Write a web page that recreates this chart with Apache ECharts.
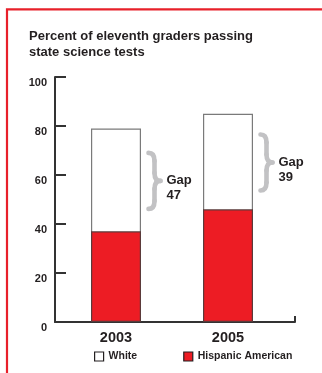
<!DOCTYPE html>
<html>
<head>
<meta charset="utf-8">
<script src="https://cdn.jsdelivr.net/npm/echarts@6/dist/echarts.min.js"></script>
<style>
  html, body { margin: 0; padding: 0; background: #fff; }
  #chart { width: 322px; height: 373px; }
</style>
</head>
<body>
<div id="chart"></div>
<script>
// Passing rates (percent) by year and group
const years = ['2003', '2005'];
const whiteRates = [79, 85];
const hispanicRates = [37, 46];
const gapLabels = ['Gap\n47', 'Gap\n39'];
const yTickValues = [0, 20, 40, 60, 80, 100];

const INK = '#231f20';
const RED = '#ed1c24';
const FONT = '"Liberation Sans", Arial, sans-serif';

const chart = echarts.init(document.getElementById('chart'), null, { renderer: 'canvas' });

const baseOption = {
  animation: false,
  backgroundColor: '#fff',
  title: {
    text: 'Percent of eleventh graders passing\nstate science tests',
    left: 29,
    top: 28,
    padding: 0,
    textStyle: { fontFamily: FONT, fontSize: 13, fontWeight: 'bold', color: INK, lineHeight: 16.6 }
  },
  legend: {
    left: 94,
    top: 351,
    padding: 0,
    icon: 'rect',
    itemWidth: 9,
    itemHeight: 9,
    itemGap: 46,
    selectedMode: false,
    textStyle: { fontFamily: FONT, fontSize: 10.5, fontWeight: 'bold', color: INK },
    data: [
      { name: 'White', itemStyle: { color: '#fff', borderColor: INK, borderWidth: 1.2 } },
      { name: 'Hispanic American', itemStyle: { color: RED, borderColor: INK, borderWidth: 1.2 } }
    ]
  },
  grid: [
    { left: 60, width: 224, top: 77, height: 245 },
    { left: 55, width: 240, top: 77, height: 245 }
  ],
  xAxis: [
    {
      type: 'category',
      gridIndex: 0,
      data: years,
      axisLine: { show: false },
      axisTick: { show: false },
      axisLabel: { margin: 8, fontFamily: FONT, fontSize: 14.5, fontWeight: 'bold', color: INK }
    },
    {
      // baseline running the full plot width, with an end tick
      type: 'value',
      gridIndex: 1,
      min: 0,
      max: 1,
      interval: 1,
      axisLine: { show: true, lineStyle: { color: '#333', width: 2 } },
      axisTick: { show: true, inside: true, length: 6, lineStyle: { color: '#333', width: 2 } },
      axisLabel: { show: false },
      splitLine: { show: false }
    }
  ],
  yAxis: [
    {
      type: 'value',
      gridIndex: 0,
      min: 0,
      max: 100,
      interval: 20,
      offset: 5,
      axisLine: { show: true, lineStyle: { color: '#333', width: 2 } },
      axisTick: { show: true, inside: true, length: 11, lineStyle: { color: '#333', width: 2 } },
      splitLine: { show: false },
      axisLabel: {
        margin: 8,
        verticalAlign: 'top',
        lineHeight: 11,
        fontFamily: FONT, fontSize: 11, fontWeight: 'bold', color: INK,
        formatter: v => (yTickValues.indexOf(v) >= 0 ? String(v) : '')
      }
    },
    { type: 'value', gridIndex: 1, min: 0, max: 100, show: false }
  ],
  series: [
    {
      name: 'White',
      type: 'bar',
      xAxisIndex: 0,
      yAxisIndex: 0,
      barWidth: 50,
      z: 2,
      itemStyle: { color: '#fff', borderColor: '#7a7a7a', borderWidth: 1.2 },
      data: whiteRates
    },
    {
      name: 'Hispanic American',
      type: 'bar',
      xAxisIndex: 0,
      yAxisIndex: 0,
      barWidth: 50,
      barGap: '-100%',
      z: 3,
      itemStyle: { color: RED, borderColor: '#5b3a3a', borderWidth: 1.2 },
      data: hispanicRates
    }
  ]
};

chart.setOption(baseOption);

const BRACE_STYLE = { stroke: '#c2c2c4', lineWidth: 4.6, fill: null, lineCap: 'round', lineJoin: 'round' };

// Curly brace for a vertical span, pointing right, built from curves and lines
function braceGroup(x, cy, w, h) {
  const top = cy - h / 2, bot = cy + h / 2, mx = x + w / 2, r = 8;
  const curve = (x1, y1, cx, cyy, x2, y2) => ({
    type: 'bezierCurve', silent: true, style: BRACE_STYLE,
    shape: { x1, y1, cpx1: cx, cpy1: cyy, x2, y2 }
  });
  const line = (x1, y1, x2, y2) => ({
    type: 'line', silent: true, style: BRACE_STYLE,
    shape: { x1, y1, x2, y2 }
  });
  return {
    type: 'group',
    silent: true,
    children: [
      curve(x, top, mx, top, mx, top + r),
      line(mx, top + r, mx, cy - r),
      curve(mx, cy - r, mx, cy, x + w, cy),
      curve(x + w, cy, mx, cy, mx, cy + r),
      line(mx, cy + r, mx, bot - r),
      curve(mx, bot - r, mx, bot, x, bot)
    ]
  };
}

function buildAnnotations() {
  const elements = [
    {
      // red frame along the top and left
      type: 'polyline',
      shape: { points: [[7, 373], [7, 9.3], [322, 9.3]] },
      style: { stroke: '#e8202a', lineWidth: 2.2, fill: null },
      silent: true
    }
  ];
  years.forEach((yr, i) => {
    const mid = (whiteRates[i] + hispanicRates[i]) / 2;
    const p = chart.convertToPixel({ xAxisIndex: 0, yAxisIndex: 0 }, [yr, mid]);
    const braceX = p[0] + 25 + 7.5;
    elements.push(braceGroup(braceX, p[1] + 1, 12, 56));
    elements.push({
      type: 'text',
      x: braceX + 18,
      y: p[1] - 7,
      style: {
        text: gapLabels[i],
        fontFamily: FONT, fontSize: 13, fontWeight: 'bold', fill: INK,
        lineHeight: 15, verticalAlign: 'top', align: 'left'
      },
      silent: true
    });
  });
  chart.setOption({ graphic: { elements } });
}

buildAnnotations();
</script>
</body>
</html>
